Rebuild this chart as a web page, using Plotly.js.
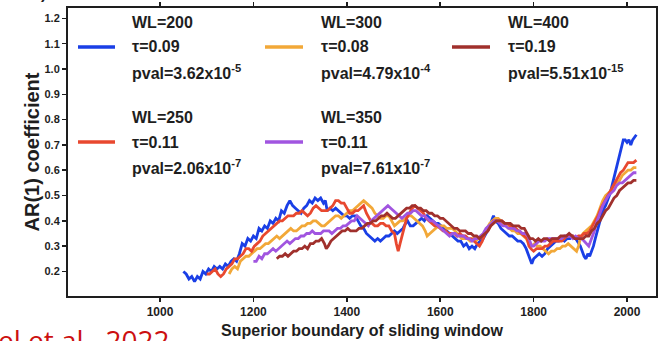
<!DOCTYPE html>
<html>
<head>
<meta charset="utf-8">
<script src="https://cdn.plot.ly/plotly-3.0.1.min.js"></script>
<style>html,body{margin:0;padding:0;background:#fff;}#chart{width:658px;height:341px;}</style>
</head>
<body>
<div id="chart"></div>
<script>
// ---- data ----
const seriesNames = ["WL=200", "WL=300", "WL=400", "WL=250", "WL=350"];
const tauLabels  = ["τ=0.09", "τ=0.08", "τ=0.19", "τ=0.11", "τ=0.11"];
const pvalMant   = ["3.62", "4.79", "5.51", "2.06", "7.61"];
const pvalExp    = ["-5", "-4", "-15", "-7", "-7"];
const xTickVals  = [1000, 1200, 1400, 1600, 1800, 2000];
const yTickVals  = [0.2, 0.3, 0.4, 0.5, 0.6, 0.7, 0.8, 0.9, 1.0, 1.1, 1.2];

const wl200 = [[1050,.20],[1056,.19],[1062,.17],[1068,.18],[1074,.16],[1080,.18],[1086,.17],[1092,.20],[1098,.19],[1104,.21],[1110,.20],[1116,.22],[1122,.21],[1128,.22],[1134,.21],[1140,.23],[1146,.22],[1152,.24],[1158,.25],[1164,.24],[1170,.27],[1176,.31],[1182,.30],[1188,.33],[1194,.32],[1200,.34],[1206,.33],[1212,.37],[1218,.36],[1224,.38],[1230,.37],[1236,.40],[1242,.39],[1248,.41],[1254,.40],[1260,.44],[1266,.43],[1272,.46],[1278,.48],[1284,.46],[1290,.45],[1296,.44],[1302,.43],[1308,.45],[1314,.46],[1320,.48],[1326,.47],[1332,.49],[1338,.48],[1344,.49],[1350,.47],[1354,.48],[1358,.44],[1364,.45],[1370,.44],[1376,.45],[1382,.44],[1388,.43],[1394,.42],[1400,.42],[1406,.41],[1412,.42],[1418,.42],[1424,.40],[1430,.38],[1436,.37],[1442,.35],[1448,.34],[1454,.33],[1460,.32],[1466,.33],[1472,.32],[1478,.33],[1484,.34],[1490,.34],[1496,.35],[1502,.36],[1508,.35],[1514,.36],[1520,.37],[1526,.39],[1530,.40],[1536,.38],[1542,.38],[1548,.39],[1554,.40],[1560,.41],[1566,.40],[1572,.42],[1578,.41],[1584,.40],[1590,.39],[1596,.39],[1602,.38],[1608,.37],[1614,.36],[1620,.35],[1626,.34],[1632,.33],[1638,.32],[1644,.32],[1650,.30],[1656,.31],[1662,.29],[1668,.30],[1674,.29],[1680,.31],[1686,.32],[1692,.33],[1698,.35],[1704,.37],[1710,.40],[1714,.42],[1718,.40],[1724,.39],[1730,.37],[1736,.36],[1742,.35],[1748,.34],[1754,.34],[1760,.33],[1766,.32],[1772,.32],[1778,.31],[1784,.29],[1788,.27],[1792,.25],[1796,.23],[1800,.25],[1806,.26],[1812,.27],[1818,.26],[1824,.27],[1830,.29],[1836,.30],[1842,.31],[1848,.32],[1854,.32],[1860,.33],[1866,.32],[1872,.33],[1878,.33],[1884,.34],[1890,.33],[1896,.31],[1900,.30],[1904,.28],[1908,.26],[1912,.25],[1916,.27],[1920,.26],[1924,.28],[1928,.30],[1932,.33],[1936,.36],[1942,.40],[1948,.44],[1954,.46],[1960,.49],[1964,.51],[1968,.54],[1972,.57],[1976,.59],[1980,.62],[1984,.65],[1988,.68],[1992,.72],[1996,.72],[2000,.71],[2004,.72],[2008,.70],[2012,.72],[2016,.73],[2020,.74]];

const wl250 = [[1100,.19],[1106,.19],[1112,.20],[1118,.21],[1124,.19],[1130,.18],[1136,.19],[1142,.21],[1148,.22],[1154,.23],[1160,.25],[1166,.25],[1172,.26],[1178,.27],[1184,.29],[1190,.29],[1196,.28],[1202,.30],[1208,.31],[1214,.32],[1220,.34],[1226,.35],[1232,.36],[1238,.37],[1244,.38],[1250,.39],[1256,.40],[1262,.40],[1268,.41],[1274,.42],[1280,.42],[1286,.42],[1292,.43],[1298,.43],[1304,.44],[1310,.43],[1316,.42],[1322,.43],[1328,.45],[1334,.46],[1340,.45],[1346,.44],[1352,.44],[1358,.44],[1364,.45],[1370,.46],[1376,.48],[1382,.48],[1388,.47],[1394,.47],[1400,.45],[1406,.43],[1412,.43],[1418,.44],[1424,.44],[1430,.45],[1436,.46],[1442,.43],[1448,.41],[1454,.39],[1460,.38],[1466,.38],[1472,.39],[1478,.39],[1484,.38],[1490,.38],[1496,.36],[1502,.35],[1506,.31],[1510,.28],[1514,.31],[1518,.34],[1522,.37],[1528,.41],[1534,.43],[1540,.45],[1546,.46],[1552,.45],[1558,.44],[1564,.43],[1570,.41],[1576,.40],[1582,.39],[1588,.38],[1594,.38],[1600,.37],[1606,.36],[1612,.36],[1618,.35],[1624,.35],[1630,.35],[1636,.34],[1642,.35],[1648,.34],[1654,.34],[1660,.33],[1666,.33],[1672,.32],[1678,.31],[1684,.30],[1690,.32],[1696,.35],[1702,.36],[1708,.38],[1714,.40],[1720,.40],[1726,.40],[1732,.40],[1738,.39],[1744,.39],[1750,.38],[1756,.37],[1762,.37],[1768,.36],[1774,.35],[1780,.34],[1786,.33],[1790,.30],[1794,.29],[1800,.28],[1806,.29],[1812,.29],[1818,.29],[1824,.30],[1830,.30],[1836,.31],[1842,.32],[1848,.32],[1854,.32],[1860,.32],[1866,.33],[1872,.34],[1878,.34],[1884,.34],[1890,.33],[1896,.34],[1902,.34],[1908,.35],[1914,.35],[1920,.36],[1926,.38],[1932,.40],[1938,.42],[1944,.45],[1950,.47],[1956,.49],[1962,.51],[1968,.53],[1974,.55],[1980,.57],[1986,.59],[1992,.60],[1998,.62],[2002,.63],[2008,.63],[2014,.63],[2020,.64]];

const wl300 = [[1148,.19],[1154,.21],[1160,.22],[1166,.21],[1172,.24],[1178,.25],[1184,.26],[1190,.26],[1196,.27],[1202,.28],[1208,.29],[1214,.29],[1220,.30],[1226,.31],[1232,.31],[1238,.32],[1244,.33],[1250,.34],[1256,.33],[1262,.34],[1268,.35],[1274,.36],[1280,.37],[1286,.36],[1292,.36],[1298,.37],[1304,.38],[1310,.38],[1316,.39],[1322,.39],[1328,.40],[1334,.40],[1340,.39],[1346,.38],[1352,.38],[1358,.39],[1364,.40],[1370,.41],[1376,.42],[1382,.42],[1388,.41],[1394,.42],[1400,.43],[1406,.44],[1412,.44],[1418,.45],[1424,.46],[1430,.47],[1436,.48],[1442,.47],[1448,.46],[1454,.45],[1460,.43],[1466,.42],[1472,.41],[1478,.41],[1484,.42],[1490,.42],[1496,.40],[1502,.38],[1508,.39],[1514,.40],[1520,.40],[1526,.41],[1532,.42],[1538,.42],[1544,.41],[1550,.40],[1556,.39],[1562,.38],[1568,.36],[1572,.34],[1578,.35],[1584,.36],[1590,.37],[1596,.38],[1602,.38],[1608,.38],[1614,.37],[1620,.37],[1626,.37],[1632,.36],[1640,.34],[1646,.33],[1652,.33],[1658,.33],[1664,.32],[1670,.33],[1676,.32],[1682,.33],[1688,.34],[1694,.35],[1700,.37],[1706,.39],[1712,.40],[1718,.41],[1724,.41],[1730,.40],[1736,.39],[1742,.38],[1748,.37],[1754,.36],[1760,.36],[1766,.35],[1772,.35],[1778,.34],[1784,.33],[1790,.31],[1796,.30],[1802,.31],[1808,.30],[1814,.30],[1820,.29],[1826,.28],[1832,.27],[1838,.28],[1844,.28],[1850,.29],[1856,.29],[1862,.30],[1868,.30],[1874,.31],[1880,.30],[1886,.29],[1892,.28],[1896,.30],[1900,.33],[1906,.35],[1912,.36],[1918,.37],[1924,.38],[1930,.40],[1936,.42],[1942,.45],[1948,.48],[1954,.50],[1960,.51],[1966,.52],[1972,.53],[1978,.55],[1984,.56],[1990,.58],[1996,.59],[2002,.60],[2008,.60],[2014,.61],[2020,.61]];

const wl350 = [[1200,.24],[1206,.24],[1212,.26],[1218,.25],[1224,.27],[1230,.27],[1236,.28],[1242,.29],[1248,.28],[1254,.29],[1260,.30],[1266,.31],[1272,.32],[1278,.31],[1284,.32],[1290,.33],[1296,.33],[1302,.34],[1308,.34],[1314,.35],[1320,.35],[1326,.36],[1332,.35],[1338,.35],[1344,.35],[1350,.36],[1356,.36],[1362,.36],[1368,.35],[1374,.36],[1380,.37],[1386,.37],[1392,.38],[1398,.38],[1404,.39],[1410,.40],[1416,.40],[1422,.42],[1428,.41],[1434,.40],[1440,.39],[1446,.38],[1452,.40],[1458,.41],[1464,.42],[1470,.43],[1476,.44],[1482,.45],[1488,.46],[1494,.45],[1500,.44],[1506,.43],[1512,.42],[1518,.41],[1524,.42],[1530,.43],[1536,.43],[1542,.44],[1548,.44],[1554,.43],[1560,.42],[1566,.42],[1572,.41],[1578,.40],[1584,.40],[1590,.39],[1596,.38],[1602,.37],[1608,.36],[1614,.35],[1620,.34],[1626,.35],[1632,.35],[1638,.34],[1644,.34],[1650,.34],[1656,.33],[1662,.33],[1668,.32],[1674,.33],[1680,.33],[1686,.34],[1692,.35],[1698,.37],[1704,.38],[1710,.39],[1716,.40],[1722,.40],[1728,.39],[1734,.38],[1740,.38],[1746,.37],[1752,.37],[1758,.37],[1764,.36],[1770,.36],[1776,.35],[1782,.35],[1788,.34],[1792,.32],[1796,.30],[1800,.30],[1806,.31],[1812,.32],[1818,.32],[1824,.32],[1830,.33],[1836,.33],[1842,.33],[1848,.33],[1854,.33],[1860,.33],[1866,.34],[1872,.34],[1878,.34],[1884,.33],[1890,.34],[1896,.33],[1902,.33],[1908,.32],[1914,.31],[1918,.30],[1924,.33],[1930,.36],[1936,.40],[1942,.43],[1948,.46],[1954,.48],[1960,.50],[1966,.51],[1972,.52],[1978,.54],[1984,.55],[1990,.55],[1996,.56],[2002,.57],[2008,.58],[2014,.59],[2020,.59]];

const wl400 = [[1250,.25],[1256,.26],[1262,.26],[1268,.27],[1274,.26],[1280,.27],[1286,.28],[1292,.28],[1298,.29],[1304,.29],[1310,.30],[1316,.29],[1322,.31],[1328,.31],[1334,.32],[1340,.32],[1346,.33],[1352,.31],[1356,.29],[1360,.30],[1366,.32],[1372,.33],[1378,.34],[1384,.35],[1390,.36],[1396,.36],[1402,.37],[1408,.36],[1414,.36],[1420,.36],[1426,.37],[1432,.37],[1438,.38],[1444,.39],[1450,.39],[1456,.40],[1462,.40],[1468,.41],[1474,.42],[1480,.42],[1486,.43],[1492,.42],[1498,.41],[1504,.41],[1510,.42],[1516,.43],[1522,.44],[1528,.45],[1534,.45],[1540,.46],[1546,.46],[1552,.45],[1558,.45],[1564,.44],[1570,.44],[1576,.43],[1582,.43],[1588,.42],[1594,.42],[1600,.41],[1606,.41],[1612,.40],[1618,.39],[1624,.38],[1630,.37],[1636,.37],[1642,.36],[1648,.36],[1654,.36],[1660,.35],[1666,.35],[1672,.34],[1678,.34],[1684,.33],[1690,.34],[1696,.35],[1702,.36],[1708,.38],[1714,.39],[1720,.40],[1726,.40],[1732,.40],[1738,.39],[1744,.39],[1750,.39],[1756,.38],[1762,.38],[1768,.38],[1774,.37],[1780,.37],[1786,.35],[1792,.33],[1798,.33],[1804,.32],[1810,.33],[1816,.32],[1822,.33],[1828,.33],[1834,.32],[1840,.33],[1846,.33],[1852,.33],[1858,.34],[1864,.34],[1870,.34],[1876,.35],[1882,.34],[1888,.33],[1894,.33],[1900,.33],[1906,.33],[1912,.34],[1918,.34],[1924,.36],[1930,.37],[1936,.39],[1942,.40],[1948,.42],[1954,.44],[1960,.45],[1966,.47],[1972,.49],[1978,.50],[1984,.52],[1990,.53],[1996,.54],[2002,.55],[2008,.55],[2014,.56],[2020,.56]];

const seriesData   = [wl200, wl300, wl400, wl250, wl350];
const seriesColors = ["#1a3fe6", "#f2a838", "#a0302c", "#e8482f", "#a155e0"];
const drawOrder    = [0, 1, 3, 4, 2]; // blue, orange, red, purple, brown on top

// ---- layout geometry (pixels) ----
const W = 658, H = 341, ML = 68, MR = 2, MT = 8, MB = 45;
const PW = W - ML - MR, PH = H - MT - MB;
const px2x = p => (p - ML) / PW;
const py2y = p => 1 - (p - MT) / PH;

const FONT = "'Liberation Sans', Arial, sans-serif";
const INK = "#1e1e1e";

const traces = drawOrder.map(i => ({
  type: "scatter", mode: "lines",
  x: seriesData[i].map(p => p[0]),
  y: seriesData[i].map(p => p[1]),
  line: {color: seriesColors[i], width: 2.8},
  showlegend: false, hoverinfo: "skip"
}));

// legend drawn as annotations + line samples in a 3x2 grid
const colLine = [[78, 115], [265, 303], [452, 490]];
const colText = [130, 319, 506];
const rowLines = [[22, 47, 72], [117, 142, 167]];
const annotations = [], shapes = [];
seriesNames.forEach((nm, i) => {
  const c = i % 3, r = Math.floor(i / 3);
  const texts = ["<b>" + nm + "</b>", "<b>" + tauLabels[i] + "</b>",
                 "<b>pval=" + pvalMant[i] + "x10<sup>" + pvalExp[i] + "</sup></b>"];
  texts.forEach((t, k) => annotations.push({
    xref: "paper", yref: "paper", x: px2x(colText[c]), y: py2y(rowLines[r][k]),
    xanchor: "left", yanchor: "middle", showarrow: false, text: t,
    font: {family: FONT, size: 16, color: INK}
  }));
  shapes.push({type: "line", xref: "paper", yref: "paper",
    x0: px2x(colLine[c][0]), x1: px2x(colLine[c][1]),
    y0: py2y(rowLines[r][1]), y1: py2y(rowLines[r][1]),
    line: {color: seriesColors[i], width: 3.5}});
});
// cropped citation text and panel label
annotations.push({xref: "paper", yref: "paper", x: px2x(-4), y: py2y(319), xanchor: "left", yanchor: "top",
  showarrow: false, text: "el et al., 2022", font: {family: "'Open Sans', 'Liberation Sans', sans-serif", size: 28, color: "#cc1010"}});
annotations.push({xref: "paper", yref: "paper", x: px2x(30), y: py2y(4), xanchor: "left", yanchor: "bottom",
  showarrow: false, text: "<b>a)</b>", font: {family: FONT, size: 16, color: INK}});

const axisCommon = {
  showline: true, linecolor: INK, linewidth: 2, mirror: "ticks",
  ticks: "outside", ticklen: 4, tickwidth: 1.5, tickcolor: INK,
  showgrid: false, zeroline: false, automargin: false
};

const layout = {
  width: W, height: H, margin: {l: ML, r: MR, t: MT, b: MB},
  paper_bgcolor: "#fff", plot_bgcolor: "#fff",
  font: {family: FONT, color: INK},
  xaxis: Object.assign({}, axisCommon, {
    range: [803, 2062], tickmode: "array", tickvals: xTickVals,
    tickfont: {family: FONT, size: 12, weight: "bold", color: INK},
    title: {text: "<b>Superior boundary of sliding window</b>", font: {family: FONT, size: 16, color: INK}, standoff: 6}
  }),
  yaxis: Object.assign({}, axisCommon, {
    range: [0.103, 1.241], tickmode: "array", tickvals: yTickVals, tickformat: ".1f",
    tickfont: {family: FONT, size: 11, weight: "bold", color: INK},
    title: {text: "<b>AR(1) coefficient</b>", font: {family: FONT, size: 20, color: INK}, standoff: 0}
  }),
  annotations: annotations, shapes: shapes, showlegend: false
};

Plotly.newPlot("chart", traces, layout, {displayModeBar: false, staticPlot: true});
</script>
</body>
</html>
